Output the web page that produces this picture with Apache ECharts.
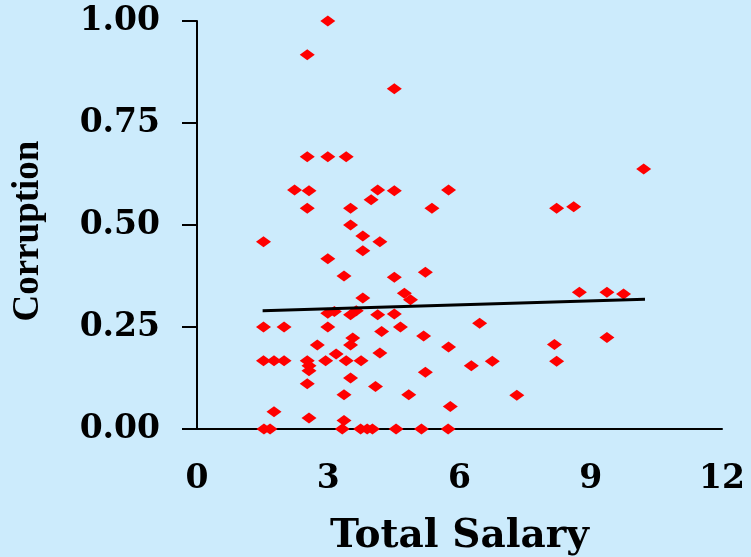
<!DOCTYPE html>
<html>
<head>
<meta charset="utf-8">
<script src="https://cdn.jsdelivr.net/npm/echarts@6/dist/echarts.min.js"></script>
<style>
html,body{margin:0;padding:0;background:#CCEBFC;}
#chart{width:751px;height:557px;}
</style>
</head>
<body>
<div id="chart"></div>
<script>
const salary = [2.99,2.52,4.51,2.52,2.99,3.41,2.23,2.56,4.13,4.51,5.75,3.98,2.52,3.51,5.37,3.51,1.52,3.79,4.18,3.79,2.99,3.36,4.51,5.22,3.79,4.74,4.88,2.99,3.14,3.51,3.64,4.13,4.51,1.52,1.99,2.99,4.65,4.22,5.18,3.56,2.75,3.51,5.75,3.18,4.18,1.52,1.76,1.99,2.52,2.56,2.56,2.94,3.41,3.75,6.27,5.22,3.51,2.52,4.08,3.36,4.84,5.79,1.76,2.56,3.36,1.53,1.67,3.32,3.74,3.89,4.01,4.55,5.13,5.74,10.21,8.22,8.61,8.74,9.37,9.75,6.46,8.17,9.37,6.75,8.22,7.31];
const corruption = [1.00,0.917,0.834,0.667,0.667,0.667,0.586,0.584,0.586,0.584,0.586,0.562,0.541,0.541,0.541,0.500,0.459,0.473,0.459,0.437,0.417,0.375,0.372,0.384,0.321,0.333,0.317,0.284,0.288,0.280,0.290,0.280,0.282,0.250,0.250,0.250,0.250,0.239,0.228,0.223,0.206,0.206,0.201,0.184,0.186,0.167,0.167,0.167,0.167,0.155,0.143,0.167,0.167,0.167,0.155,0.139,0.125,0.111,0.104,0.084,0.084,0.055,0.042,0.027,0.021,0,0,0,0,0,0,0,0,0,0.637,0.541,0.545,0.335,0.335,0.331,0.259,0.207,0.224,0.166,0.166,0.083];
const trendX = [1.50, 10.24];
const trendY = [0.290, 0.318];
const xTicks = [0, 3, 6, 9, 12];
const yTicks = [0, 0.25, 0.5, 0.75, 1.0];

const points = salary.map((s, i) => [s, corruption[i]]);
const trend = trendX.map((x, i) => [x, trendY[i]]);

const chart = echarts.init(document.getElementById('chart'));
chart.setOption({
  backgroundColor: '#CCEBFC',
  animation: false,
  grid: {left: 197, top: 21, width: 525, height: 408, containLabel: false, outerBoundsMode: 'none'},
  xAxis: {
    type: 'value', min: xTicks[0], max: xTicks[xTicks.length - 1], interval: 3,
    name: 'Total Salary', nameLocation: 'middle', nameGap: 88,
    nameTextStyle: {fontFamily: 'DejaVu Serif', fontWeight: 'bold', fontSize: 39, color: '#000'},
    axisLine: {show: true, onZero: false, lineStyle: {color: '#000', width: 2}},
    axisTick: {show: false},
    splitLine: {show: false},
    axisLabel: {margin: 34, fontFamily: 'DejaVu Serif', fontWeight: 'bold', fontSize: 33, color: '#000'}
  },
  yAxis: {
    type: 'value', min: yTicks[0], max: yTicks[yTicks.length - 1], interval: 0.25,
    name: 'Corruption', nameLocation: 'middle', nameGap: 150, nameRotate: 90,
    nameTextStyle: {fontFamily: 'Liberation Serif', fontWeight: 'bold', fontSize: 37, color: '#000', padding: [0, 12, 0, 0]},
    axisLine: {show: true, onZero: false, lineStyle: {color: '#000', width: 2}},
    axisTick: {show: true, inside: false, length: 15, lineStyle: {color: '#000', width: 2}},
    splitLine: {show: false},
    axisLabel: {margin: 37, fontFamily: 'DejaVu Serif', fontWeight: 'bold', fontSize: 33, color: '#000',
      formatter: v => v.toFixed(2)}
  },
  series: [
    {type: 'scatter', data: points, symbol: 'diamond', symbolSize: [15, 11],
     itemStyle: {color: '#FF0000', opacity: 1}, z: 2},
    {type: 'line', data: trend, symbol: 'none', lineStyle: {color: '#000', width: 3}, z: 3}
  ]
});
</script>
</body>
</html>
